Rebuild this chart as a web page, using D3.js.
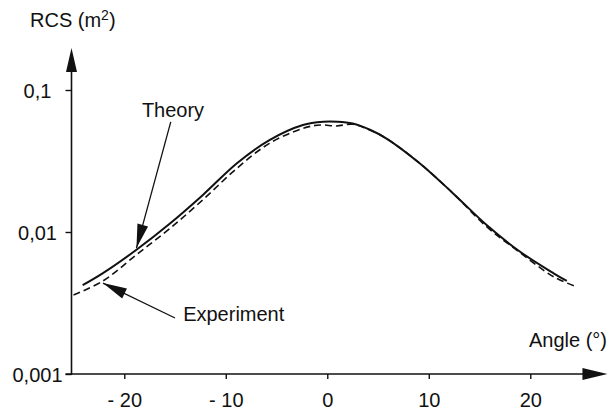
<!DOCTYPE html>
<html>
<head>
<meta charset="utf-8">
<script src="https://cdn.jsdelivr.net/npm/d3@7"></script>
<style>
  html, body { margin: 0; padding: 0; background: #fff; }
  svg { display: block; }
  text { font-family: "Liberation Sans", Arial, Helvetica, sans-serif; fill: #111; }
</style>
</head>
<body>
<svg id="chart" width="611" height="409"></svg>
<script>
// ---- data ----
const theoryAngle = [-24.1, -22.1, -18.8, -15.5, -12.2, -8.9, -5.7, -2.4, -0.4, 1.0, 2.5, 4.2, 5.8, 9.1, 12.4, 15.7, 19.0, 22.3, 23.6];
const theoryRCS   = [0.00422, 0.00513, 0.0075, 0.01148, 0.0184, 0.0305, 0.0444, 0.0567, 0.0598, 0.0598, 0.0580, 0.0525, 0.0457, 0.0305, 0.0187, 0.0112, 0.00726, 0.00512, 0.00452];

const experimentAngle = [-25.0, -22.1, -18.8, -15.5, -12.2, -8.9, -5.7, -2.4, -0.7, 0.9, 2.5, 4.2, 5.8, 9.1, 12.4, 15.7, 19.0, 22.3, 24.6];
const experimentRCS   = [0.0036, 0.00452, 0.00692, 0.0106, 0.0170, 0.0281, 0.0421, 0.0537, 0.0567, 0.0558, 0.0574, 0.0522, 0.0457, 0.0305, 0.0187, 0.0109, 0.00715, 0.00484, 0.0041];

const xTicks = [-20, -10, 0, 10, 20];
const xTickLabels = ["- 20", "- 10", "0", "10", "20"];
const yTicks = [0.001, 0.01, 0.1];
const yTickLabels = ["0,001", "0,01", "0,1"];

const yTitle = "RCS (m";
const yTitleSup = "2";
const xTitle = "Angle (°)";
const theoryLabel = "Theory";
const experimentLabel = "Experiment";

// ---- layout ----
const svg = d3.select("#chart");
const ink = "#111";
const ox = 71.5, oy = 374;

const x = d3.scaleLinear().domain([-25.2, 27.6]).range([ox, ox + 52.8 * 10.15]);
const y = d3.scaleLog().domain([0.001, 0.1]).range([oy, 90]);

// arrowhead helper
function arrowHead(tipX, tipY, fromX, fromY, len, halfW) {
  const dx = tipX - fromX, dy = tipY - fromY;
  const d = Math.hypot(dx, dy), ux = dx / d, uy = dy / d;
  const bx = tipX - ux * len, by = tipY - uy * len;
  const px = -uy * halfW, py = ux * halfW;
  return `M${tipX},${tipY}L${bx + px},${by + py}L${bx - px},${by - py}Z`;
}

// ---- axes ----
const yAxis = d3.axisLeft(y).tickValues(yTicks).tickSize(6)
  .tickFormat((d, i) => yTickLabels[i]);
const gy = svg.append("g").attr("transform", `translate(${ox},0)`).call(yAxis);
gy.select(".domain").remove();
gy.selectAll(".tick line").attr("stroke", ink).attr("stroke-width", 1.4);
gy.selectAll(".tick text")
  .attr("x", 37.5 - ox).attr("dy", "0.35em")
  .attr("text-anchor", "middle")
  .style("font-size", "20px").style("font-family", "Liberation Sans, Arial, sans-serif")
  .attr("fill", ink);

const xAxis = d3.axisBottom(x).tickValues(xTicks).tickSize(5)
  .tickFormat((d, i) => xTickLabels[i]);
const gx = svg.append("g").attr("transform", `translate(0,${oy})`).call(xAxis);
gx.select(".domain").remove();
gx.selectAll(".tick line").attr("stroke", ink).attr("stroke-width", 1.4);
gx.selectAll(".tick text")
  .attr("y", 32.5).attr("dy", 0)
  .attr("text-anchor", "middle")
  .style("font-size", "20px").style("font-family", "Liberation Sans, Arial, sans-serif")
  .attr("fill", ink);

// axis lines with arrows
const yTop = 48, xRight = x.range()[1];
svg.append("line").attr("x1", ox).attr("y1", oy + 1).attr("x2", ox).attr("y2", yTop + 10)
  .attr("stroke", ink).attr("stroke-width", 1.6);
svg.append("path").attr("d", arrowHead(ox, yTop, ox, oy, 24, 5.5)).attr("fill", ink);
svg.append("line").attr("x1", ox - 6).attr("y1", oy).attr("x2", xRight - 10).attr("y2", oy)
  .attr("stroke", ink).attr("stroke-width", 1.6);
svg.append("path").attr("d", arrowHead(xRight, oy, ox, oy, 25, 6)).attr("fill", ink);

// axis titles
const yt = svg.append("text").attr("x", 30).attr("y", 27).style("font-size", "20px");
yt.append("tspan").text(yTitle);
yt.append("tspan").attr("dy", -7).style("font-size", "14px").text(yTitleSup);
yt.append("tspan").attr("dy", 7).text(")");

svg.append("text").attr("x", 607).attr("y", 347).attr("text-anchor", "end")
  .style("font-size", "20px").text(xTitle);

// ---- curves ----
const line = d3.line().x(d => x(d[0])).y(d => y(d[1])).curve(d3.curveCatmullRom.alpha(0.5));

svg.append("path")
  .datum(experimentAngle.map((a, i) => [a, experimentRCS[i]]))
  .attr("d", line).attr("fill", "none").attr("stroke", ink)
  .attr("stroke-width", 1.6).attr("stroke-dasharray", "7,4");

svg.append("path")
  .datum(theoryAngle.map((a, i) => [a, theoryRCS[i]]))
  .attr("d", line).attr("fill", "none").attr("stroke", ink)
  .attr("stroke-width", 2);

// ---- annotations ----
// Theory
const thTail = [x(-15.42), y(0.0596)], thTip = [x(-18.8), y(0.0077)];
svg.append("line").attr("x1", thTail[0]).attr("y1", thTail[1]).attr("x2", thTip[0]).attr("y2", thTip[1])
  .attr("stroke", ink).attr("stroke-width", 1.3);
svg.append("path").attr("d", arrowHead(thTip[0], thTip[1], thTail[0], thTail[1], 24, 5.5)).attr("fill", ink);
svg.append("text").attr("x", x(-15.2)).attr("y", y(0.0648)).attr("text-anchor", "middle")
  .style("font-size", "20px").text(theoryLabel);

// Experiment
const exTail = [x(-15.0), y(0.00248)], exTip = [x(-22.1), y(0.00437)];
svg.append("line").attr("x1", exTail[0]).attr("y1", exTail[1]).attr("x2", exTip[0]).attr("y2", exTip[1])
  .attr("stroke", ink).attr("stroke-width", 1.3);
svg.append("path").attr("d", arrowHead(exTip[0], exTip[1], exTail[0], exTail[1], 24, 5.5)).attr("fill", ink);
svg.append("text").attr("x", x(-14.2)).attr("y", y(0.00236))
  .style("font-size", "20px").text(experimentLabel);
</script>
</body>
</html>
